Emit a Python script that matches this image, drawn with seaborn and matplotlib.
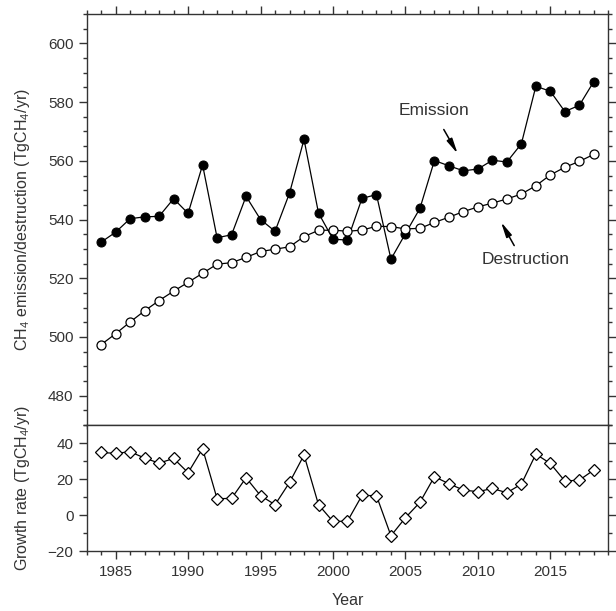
import numpy as np
import pandas as pd
import seaborn as sns
import matplotlib.pyplot as plt
from matplotlib.ticker import MultipleLocator

# values (TgCH4/yr)
years = list(range(1984, 2019))
emission = [532.3, 535.7, 540.3, 540.9, 541.1, 547.1, 542.1, 558.6, 533.8, 534.8,
            547.9, 540.0, 536.0, 549.0, 567.3, 542.2, 533.3, 533.0, 547.2, 548.5,
            526.5, 535.2, 543.8, 560.1, 558.3, 556.6, 557.2, 560.2, 559.6, 565.8,
            585.4, 583.7, 576.8, 578.9, 587.0]
destruction = [497.4, 501.1, 505.1, 508.9, 512.4, 515.6, 518.6, 521.7, 524.8, 525.3,
               527.1, 529.1, 529.9, 530.7, 534.2, 536.3, 536.4, 536.0, 536.4, 537.7,
               537.6, 536.8, 537.0, 539.0, 540.8, 542.7, 544.3, 545.6, 547.0, 548.7,
               551.5, 555.2, 557.8, 559.8, 562.2]
growth = [34.8, 34.3, 35.2, 31.7, 28.9, 31.5, 23.6, 36.9, 9.2, 9.4,
          20.8, 10.9, 5.9, 18.2, 33.4, 5.9, -3.4, -3.2, 11.0, 10.9,
          -11.3, -1.3, 7.2, 21.4, 17.5, 14.0, 13.1, 14.9, 12.5, 17.3,
          33.9, 28.7, 19.0, 19.5, 25.1]

df = pd.DataFrame({'Year': years, 'Emission': emission,
                   'Destruction': destruction, 'Growth': growth})

sns.set_style('ticks')
plt.rcParams['font.family'] = ['Liberation Sans', 'DejaVu Sans']
plt.rcParams['mathtext.default'] = 'regular'
txt = '#333333'
plt.rcParams.update({'text.color': txt, 'axes.labelcolor': txt,
                     'xtick.color': txt, 'ytick.color': txt,
                     'axes.edgecolor': '#333333', 'axes.linewidth': 1.0})

fig = plt.figure(figsize=(6.16, 6.11), dpi=100)
ax1 = fig.add_axes([0.1407, 0.3044, 0.8468, 0.6726])
ax2 = fig.add_axes([0.1407, 0.0974, 0.8468, 0.2070], sharex=ax1)

line_kw = dict(color='black', linewidth=0.9)
sns.lineplot(data=df, x='Year', y='Emission', ax=ax1, marker='o', markersize=6.5,
             markerfacecolor='black', markeredgecolor='black', **line_kw)
sns.lineplot(data=df, x='Year', y='Destruction', ax=ax1, marker='o', markersize=6.5,
             markerfacecolor='white', markeredgecolor='black', markeredgewidth=0.9,
             **line_kw)
sns.lineplot(data=df, x='Year', y='Growth', ax=ax2, marker='D', markersize=5.8,
             markerfacecolor='white', markeredgecolor='black', markeredgewidth=0.9,
             **line_kw)

ax1.set_xlim(1983, 2019)
ax1.set_ylim(470, 610)
ax2.set_ylim(-20, 50)

for ax in (ax1, ax2):
    for s in ax.spines.values():
        s.set_visible(True)
    ax.xaxis.set_major_locator(MultipleLocator(5))
    ax.xaxis.set_minor_locator(MultipleLocator(1))
    ax.tick_params(which='major', direction='out', length=6, width=1.0, labelsize=11)
    ax.tick_params(which='minor', direction='out', length=3, width=1.0)

ax1.yaxis.set_major_locator(MultipleLocator(20))
ax1.yaxis.set_minor_locator(MultipleLocator(5))
ax1.set_yticks([480, 500, 520, 540, 560, 580, 600])
ax1.tick_params(which='both', top=True, right=True, bottom=True, labelbottom=False)
ax2.yaxis.set_major_locator(MultipleLocator(20))
ax2.yaxis.set_minor_locator(MultipleLocator(10))
ax2.set_yticks([-20, 0, 20, 40])
ax2.tick_params(which='both', top=False, right=True)

ax1.set_xlabel('')
ax1.set_ylabel('CH$_4$ emission/destruction (TgCH$_4$/yr)', fontsize=11.5)
ax2.set_ylabel('Growth rate (TgCH$_4$/yr)', fontsize=11.5)
ax2.set_xlabel('Year', fontsize=11.5, labelpad=10)
ax1.yaxis.set_label_coords(-0.105, 0.5)
ax2.yaxis.set_label_coords(-0.105, 0.5)

arrow = dict(arrowstyle='-|>,head_length=0.9,head_width=0.18', color='black', lw=1.1)
ax1.text(2006.96, 577, 'Emission', ha='center', va='center', fontsize=12.5)
ax1.annotate('', xy=(2008.7, 561.6), xytext=(2007.55, 571.5), arrowprops=arrow)
ax1.text(2013.3, 526.3, 'Destruction', ha='center', va='center', fontsize=12.5)
ax1.annotate('', xy=(2011.5, 540.0), xytext=(2012.6, 530.3), arrowprops=arrow)

fig.savefig('out.png', dpi=100)
